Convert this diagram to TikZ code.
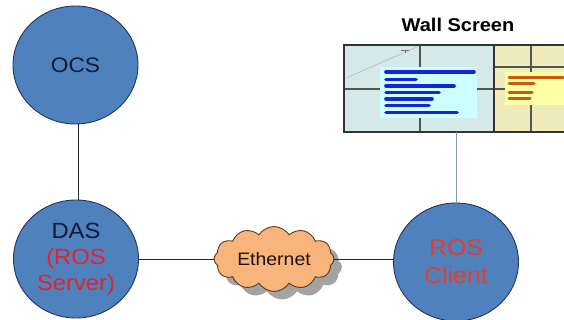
\documentclass[tikz,border=0pt]{standalone}
\usepackage{fontspec}
\setmainfont{Liberation Sans}[FakeStretch=1.08]
\usetikzlibrary{shapes.geometric,shapes.symbols,shadows}

\definecolor{nodeblue}{HTML}{4F81BD}
\definecolor{nodeedge}{HTML}{1F3560}
\definecolor{navytext}{HTML}{0E1A38}
\definecolor{rostext}{HTML}{E8202A}
\definecolor{clientred}{HTML}{E2402C}
\definecolor{cloudfill}{HTML}{F9B47B}
\definecolor{cloudedge}{HTML}{5A3A1A}
\definecolor{panelteal}{HTML}{D5E9E9}
\definecolor{panelsand}{HTML}{EFEBBB}
\definecolor{gridgray}{HTML}{4E5852}
\definecolor{winCyan}{HTML}{CCFFFF}
\definecolor{winYellow}{HTML}{FFFFA6}
\definecolor{inkblue}{HTML}{1424D8}
\definecolor{inkorange}{HTML}{C85A10}
\definecolor{feedline}{HTML}{7C98BA}

\begin{document}
\begin{tikzpicture}[x=1pt,y=-1pt,
  station/.style={ellipse, draw=nodeedge, line width=0.9pt, fill=nodeblue,
    minimum width=125pt, minimum height=118pt, inner sep=0pt, align=center,
    font=\fontsize{22}{26}\selectfont},
  link/.style={draw=black!85, line width=1pt},
  gridline/.style={draw=gridgray, line width=1.8pt},
  scribble/.style={line width=3.6pt, line cap=round},
]
\useasboundingbox (0,0) rectangle (564,320);
\clip (0,0) rectangle (564,320);

% stations
\node[station, text=navytext, font=\fontsize{21}{25}\selectfont] (ocs) at (75.5,65) {OCS};
\node[station, text=navytext] (das) at (76,259)
  {DAS\\\textcolor{rostext}{(ROS}\\\textcolor{rostext}{Server)}};
\node[station, text=clientred, font=\fontsize{23}{28}\selectfont] (rosc) at (456,262)
  {ROS\\Client};

% network cloud
\node[cloud, cloud puffs=12, cloud puff arc=115, aspect=2.0,
  draw=cloudedge, line width=0.9pt, fill=cloudfill,
  minimum width=120pt, minimum height=62pt, inner sep=0pt,
  drop shadow={shadow xshift=8pt, shadow yshift=-8pt, fill=black!45, opacity=0.8},
  text=black!85!brown, font=\fontsize{18}{20}\selectfont] (eth) at (274,259) {Ethernet};

% wall screen
\node[font=\bfseries\fontsize{18.5}{22}\selectfont] (title) at (458,25) {Wall Screen};
\fill[panelteal] (344,45) rectangle (494,132);
\fill[panelsand] (494,45) rectangle (570,132);
\draw[black!30, line width=0.5pt] (346,78) -- (417,47);
\draw[black!55, line width=0.8pt] (401,50) -- (409,50) (405,50) -- (405,53);
\draw[gridline] (420,45) -- (420,132) (344,89) -- (494,89);
\draw[gridline] (531,45) -- (531,132) (494,67) -- (570,67) (494,89) -- (505,89);
\fill[winCyan] (380,67) rectangle (477,118);
\fill[winYellow] (505,72) rectangle (570,105);
\draw[black!80, line width=1.6pt] (344,45) rectangle (570,132);
\draw[black!80, line width=1.6pt] (494,45) -- (494,132);
\begin{scope}[scribble, inkblue]
  \draw (386,72) -- (474,72);
  \draw (386,79.5) -- (416,79.5);
  \draw (386,86) -- (454,86);
  \draw (386,92.5) -- (439,92.5);
  \draw (386,99) -- (432,99);
  \draw (386,105.5) -- (429,105.5);
  \draw (386,112.5) -- (457,112.5);
\end{scope}
\begin{scope}[scribble, inkorange, line width=3pt]
  \draw (509,78) -- (563,78);
  \draw (509,84) -- (534,84);
  \draw (509,92.5) -- (532,92.5);
  \draw (509,99) -- (530,99);
\end{scope}
\coordinate (screenbase) at (457,132);

% connectors
\draw[link] (ocs.south -| 78,0) -- (das.north -| 78,0);
\draw[link] (das.east) -- (eth.west);
\draw[link] (eth.east) -- (eth.east -| rosc.west);
\draw[draw=feedline, line width=1pt] (rosc.north |- screenbase) -- (rosc.north);
\end{tikzpicture}
\end{document}
